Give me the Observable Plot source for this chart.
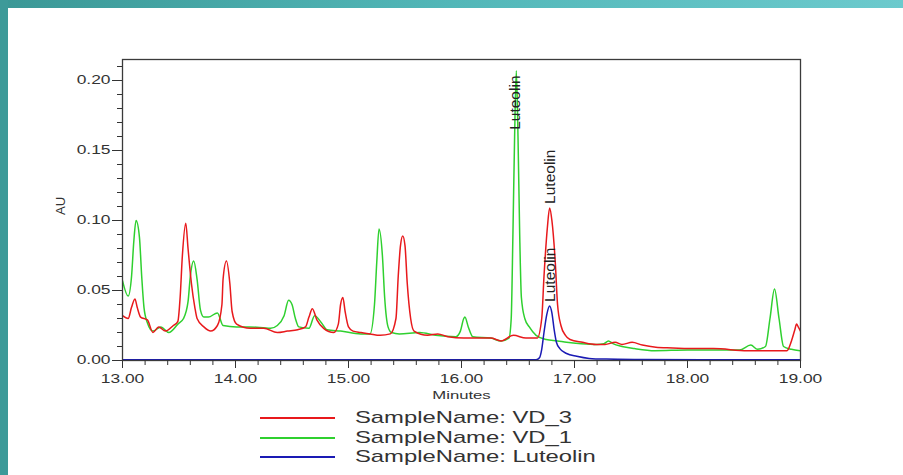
<!DOCTYPE html>
<html>
<head>
<meta charset="utf-8">
<script src="https://cdn.jsdelivr.net/npm/d3@7"></script>
<script src="https://cdn.jsdelivr.net/npm/@observablehq/plot@0.6"></script>
<style>
  html, body { margin: 0; padding: 0; background: #fff; }
  body { width: 903px; height: 475px; overflow: hidden; position: relative; font-family: "Liberation Sans", Arial, sans-serif; }
  #chart { position: absolute; left: 0; top: 0; }
  #topband { position: absolute; left: 0; top: 0; width: 903px; height: 8px; background: linear-gradient(90deg, #3b9896, #52b7b8 50%, #6ccacd); }
  #leftband { position: absolute; left: 0; top: 0; width: 8px; height: 475px; background: #3d9a99; }
  #legend { position: absolute; left: 260px; top: 408px; width: 420px; height: 60px; }
  .row { position: absolute; left: 0; height: 20px; width: 400px; }
  .sw { position: absolute; left: 0; top: 9px; width: 75px; height: 2px; }
  .lab { position: absolute; left: 95px; top: 0; font-size: 17px; line-height: 20px; color: #333; white-space: nowrap; display: inline-block; transform: scaleX(1.4); transform-origin: 0 50%; }
</style>
</head>
<body>
<div id="chart"></div>
<div id="topband"></div>
<div id="leftband"></div>
<div id="legend"></div>
<script>
// ---- data ----
const seriesNames = ["SampleName: VD_3", "SampleName: VD_1", "SampleName: Luteolin"];

const vd3Time = [13.00,13.05,13.08,13.11,13.13,13.16,13.22,13.27,13.32,13.38,13.45,13.49,13.51,13.53,13.56,13.58,13.61,13.64,13.66,13.72,13.78,13.84,13.88,13.89,13.92,13.95,13.97,14.01,14.13,14.25,14.37,14.46,14.55,14.62,14.65,14.68,14.72,14.78,14.87,14.91,14.93,14.95,14.97,15.00,15.04,15.11,15.19,15.28,15.37,15.42,15.44,15.46,15.48,15.50,15.52,15.55,15.58,15.70,15.79,15.88,16.02,16.11,16.26,16.35,16.46,16.57,16.67,16.71,16.73,16.76,16.78,16.80,16.83,16.85,16.88,16.92,16.96,17.07,17.19,17.27,17.36,17.42,17.51,17.60,17.72,17.87,18.01,18.23,18.53,18.76,18.88,18.92,18.95,18.965,18.98,19.00];
const vd3AU   = [0.032,0.030,0.038,0.044,0.038,0.031,0.029,0.020,0.024,0.021,0.025,0.028,0.045,0.075,0.098,0.080,0.055,0.038,0.030,0.024,0.021,0.025,0.040,0.058,0.071,0.055,0.035,0.026,0.023,0.023,0.020,0.021,0.022,0.024,0.031,0.037,0.029,0.023,0.020,0.026,0.040,0.045,0.035,0.024,0.021,0.020,0.019,0.018,0.019,0.030,0.060,0.082,0.089,0.082,0.055,0.030,0.021,0.018,0.019,0.017,0.016,0.016,0.016,0.014,0.018,0.016,0.016,0.030,0.060,0.095,0.109,0.100,0.070,0.040,0.025,0.018,0.015,0.013,0.0115,0.0115,0.013,0.0115,0.013,0.011,0.0095,0.009,0.0085,0.0085,0.007,0.007,0.007,0.014,0.022,0.026,0.024,0.021];

const vd1Time = [13.00,13.05,13.08,13.10,13.12,13.15,13.17,13.19,13.22,13.27,13.34,13.41,13.49,13.54,13.58,13.60,13.63,13.66,13.69,13.72,13.76,13.84,13.89,14.01,14.12,14.31,14.37,14.43,14.47,14.50,14.53,14.56,14.65,14.70,14.76,14.81,14.93,15.11,15.19,15.23,15.25,15.27,15.30,15.32,15.35,15.38,15.45,15.63,15.77,15.95,15.99,16.02,16.03,16.06,16.10,16.26,16.35,16.42,16.44,16.455,16.47,16.485,16.50,16.515,16.53,16.56,16.60,16.66,16.75,16.85,16.93,17.06,17.20,17.26,17.30,17.34,17.42,17.53,17.71,18.00,18.15,18.46,18.56,18.62,18.69,18.73,18.77,18.81,18.85,18.92,19.00];
const vd1AU   = [0.057,0.046,0.060,0.085,0.100,0.088,0.060,0.038,0.027,0.021,0.024,0.020,0.026,0.030,0.042,0.060,0.071,0.058,0.036,0.031,0.031,0.034,0.025,0.024,0.024,0.023,0.025,0.032,0.043,0.040,0.030,0.024,0.023,0.032,0.027,0.022,0.021,0.019,0.019,0.040,0.070,0.094,0.075,0.045,0.024,0.020,0.019,0.020,0.018,0.017,0.021,0.030,0.031,0.024,0.017,0.016,0.014,0.016,0.030,0.090,0.160,0.207,0.160,0.090,0.045,0.030,0.024,0.018,0.015,0.014,0.013,0.012,0.0115,0.012,0.014,0.012,0.010,0.0085,0.007,0.0075,0.0075,0.0075,0.011,0.008,0.010,0.030,0.051,0.030,0.010,0.008,0.007];

const lutTime = [13.00,16.66,16.69,16.71,16.73,16.755,16.78,16.80,16.82,16.84,16.87,16.93,17.02,17.13,17.28,17.60,18.17,19.00];
const lutAU   = [0.0005,0.0005,0.002,0.008,0.020,0.033,0.039,0.034,0.022,0.013,0.0085,0.005,0.003,0.0015,0.001,0.0007,0.0005,0.0005];

const yMajor = [0, 0.05, 0.10, 0.15, 0.20];
const yMinor = [0.01,0.02,0.03,0.04,0.06,0.07,0.08,0.09,0.11,0.12,0.13,0.14,0.16,0.17,0.18,0.19,0.21];
const xMajor = [13, 14, 15, 16, 17, 18, 19];
const xMinor = [13.2,13.4,13.6,13.8,14.2,14.4,14.6,14.8,15.2,15.4,15.6,15.8,16.2,16.4,16.6,16.8,17.2,17.4,17.6,17.8,18.2,18.4,18.6,18.8];

const peakLabel = "Luteolin";
const peakTimesOnTrace = [16.78, 16.78];   // VD_3 and Luteolin standard apexes
const peakAUOnTrace = [0.109, 0.039];
const topPeakTime = [16.475];             // VD_1 apex (label pinned near the frame top)

// ---- build tables ----
const toRows = (t, v) => t.map((d, i) => ({t: d, v: v[i]}));
const vd3 = toRows(vd3Time, vd3AU);
const vd1 = toRows(vd1Time, vd1AU);
const lut = toRows(lutTime, lutAU);
const peaks = toRows(peakTimesOnTrace, peakAUOnTrace);

const colors = ["#e8191c", "#2fd02f", "#1a1ab4"];
const fontFam = "'Liberation Sans', Arial, sans-serif";

const chart = Plot.plot({
  width: 903,
  height: 405,
  marginTop: 59,
  marginBottom: 45,
  marginLeft: 122,
  marginRight: 103,
  style: {background: "transparent", fontFamily: fontFam, color: "#333"},
  x: {domain: [13, 19], label: null},
  y: {domain: [0, 0.215], label: null},
  marks: [
    Plot.line(vd1, {x: "t", y: "v", stroke: colors[1], strokeWidth: 1.5, curve: "monotone-x", clip: true}),
    Plot.line(vd3, {x: "t", y: "v", stroke: colors[0], strokeWidth: 1.5, curve: "monotone-x", clip: true}),
    Plot.line(lut, {x: "t", y: "v", stroke: colors[2], strokeWidth: 1.5, curve: "monotone-x", clip: true}),
    Plot.frame({stroke: "#3a3a3a", strokeWidth: 1.3}),
    Plot.axisY(yMajor, {tickSize: 10, tickPadding: 2, tickFormat: d => d.toFixed(2), fontSize: 12, color: "#333", label: null}),
    Plot.axisY(yMinor, {tickSize: 5, tickFormat: () => "", color: "#333", label: null}),
    Plot.axisX(xMajor, {tickSize: 8, tickPadding: 6, tickFormat: d => d.toFixed(2), fontSize: 12, color: "#333", label: null}),
    Plot.axisX(xMinor, {tickSize: 5, tickFormat: () => "", color: "#333", label: null}),
    Plot.text(["Minutes"], {text: d => d, frameAnchor: "bottom", dy: 38, fontSize: 11.5, fill: "#333"}),
    Plot.text(["AU"], {text: d => d, frameAnchor: "left", dx: -62, dy: 5, rotate: -90, fontSize: 13, fill: "#333"}),
    Plot.text(peaks, {x: "t", y: "v", text: () => peakLabel, rotate: -90, textAnchor: "start", lineAnchor: "middle", dy: -4, fontSize: 15.5, fill: "#222"}),
    Plot.text(topPeakTime, {x: d => d, text: () => peakLabel, frameAnchor: "top", dy: 16, rotate: -90, textAnchor: "end", lineAnchor: "middle", fontSize: 15.5, fill: "#222"})
  ]
});

document.getElementById("chart").appendChild(chart);

// horizontally widen the upright texts, as in the (stretched) original
chart.querySelectorAll("text").forEach(t => {
  const tr = t.getAttribute("transform") || "";
  if (tr.includes("rotate")) return;
  const w = t.getComputedTextLength();
  if (w > 0) {
    t.setAttribute("textLength", (w * 1.45).toFixed(2));
    t.setAttribute("lengthAdjust", "spacingAndGlyphs");
  }
});

// legend
const legend = document.getElementById("legend");
const rowTops = [0, 20, 39];
seriesNames.forEach((name, i) => {
  const row = document.createElement("div");
  row.className = "row";
  row.style.top = rowTops[i] + "px";
  const sw = document.createElement("div");
  sw.className = "sw";
  sw.style.background = colors[i];
  const lab = document.createElement("span");
  lab.className = "lab";
  lab.textContent = name;
  row.appendChild(sw);
  row.appendChild(lab);
  legend.appendChild(row);
});
</script>
</body>
</html>
